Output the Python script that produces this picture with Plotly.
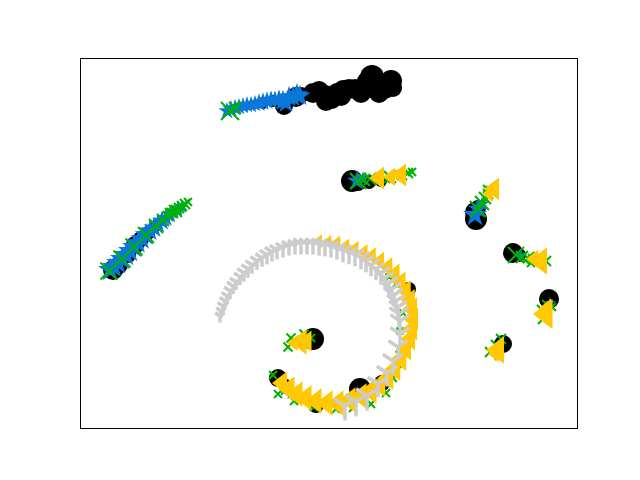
import plotly.graph_objects as go

# embedding scatter, axis frame only (no ticks)

black_x = [232, 238, 244, 250, 256, 262, 268, 274, 280, 286, 291, 292, 298, 304, 310, 312, 306,
           245, 260, 280, 298, 285, 303,
           203, 215, 220, 182, 192,
           32, 38, 47, 54, 60, 67, 75,
           271, 277, 288, 300, 395, 394, 397, 432, 438, 468, 422,
           232, 197, 235, 279, 301, 328, 205]
black_y = [335, 337, 333, 330, 335, 338, 339, 339, 339, 341, 351, 341, 337, 339, 347, 340, 345,
           327, 332, 335, 335, 347, 345,
           322, 331, 333, 325, 327,
           158, 163, 173, 183, 189, 195, 202,
           247, 245, 246, 247, 209, 216, 220, 175, 173, 129, 84,
           89, 50, 23, 39, 45, 139, 43]
black_s = [20, 20, 20, 22, 20, 20, 20, 20, 20, 20, 24, 22, 20, 20, 22, 18, 20,
           20, 20, 20, 20, 18, 18,
           18, 20, 16, 12, 12,
           20, 18, 16, 18, 16, 14, 12,
           22, 16, 14, 12, 22, 20, 16, 20, 14, 20, 18,
           22, 18, 16, 22, 16, 14, 12]

blue_x = [146, 150, 154, 158, 162, 166, 170, 174, 178, 182, 186, 190, 194, 198, 202, 205, 208, 212, 216, 219,
          29, 33, 37, 41, 45, 49, 53, 57, 61, 65, 69, 73, 77, 81, 85, 89, 93, 97, 101,
          276, 282, 394, 397, 401, 440, 469, 217, 203, 210]
blue_y = [317, 319, 320, 321, 322, 323, 323, 324, 325, 326, 327, 328, 328, 329, 327, 325, 331, 331, 333, 332,
          158, 161, 165, 169, 173, 177, 181, 185, 189, 193, 197, 200, 204, 207, 210, 213, 216, 219, 221,
          247, 249, 213, 219, 224, 172, 125, 87, 37, 34]
blue_s = [13, 13, 13, 13, 13, 13, 13, 13, 14, 14, 14, 14, 14, 14, 16, 16, 16, 16, 17, 16,
          18, 18, 18, 18, 18, 18, 18, 17, 17, 17, 16, 16, 15, 15, 14, 13, 12, 11, 10,
          15, 11, 18, 15, 11, 9, 9, 9, 9, 9]

green_x = [149, 154,
           28, 41, 53, 65, 75, 82, 87, 91, 95, 98, 101, 104, 107, 92, 97, 88,
           277, 283, 289, 304, 309, 315, 321, 327, 331,
           397, 401, 404, 407, 410, 406,
           435, 441, 447, 452, 457, 465, 450,
           466, 461, 462, 471,
           420, 415, 409, 418,
           210, 207, 223, 230,
           192, 197, 213, 233, 255, 272, 290, 305, 312, 316, 318, 319, 322, 315, 308]
green_y = [317, 320,
           157, 169, 181, 193, 202, 208, 212, 215, 218, 220, 222, 224, 226, 219, 215, 216,
           247, 248, 249, 250, 251, 252, 253, 255, 256,
           219, 225, 230, 234, 237, 239,
           173, 171, 170, 169, 171, 167, 165,
           123, 118, 109, 121,
           89, 83, 76, 72,
           90, 81, 94, 90,
           53, 34, 27, 21, 19, 20, 24, 35, 50, 64, 79, 97, 115, 144, 151]
green_s = [18, 12,
           17, 17, 17, 16, 14, 12, 10, 10, 10, 10, 10, 10, 8, 8, 8, 8,
           16, 12, 12, 10, 12, 10, 10, 10, 8,
           16, 14, 12, 10, 10, 8,
           16, 12, 10, 10, 10, 10, 8,
           10, 10, 10, 8,
           10, 10, 10, 8,
           9, 9, 9, 8,
           8, 8, 8, 8, 8, 8, 8, 8, 8, 8, 7, 7, 7, 7, 7]

yellow_x = [298, 320, 310, 413, 408, 460, 453, 465, 466, 417, 414, 220, 226, 213,
            238, 247, 256, 265, 274, 283, 291, 299, 307, 314, 320, 325, 329, 331, 332, 331,
            329, 325, 320, 314, 307, 299, 290, 280, 269, 257, 246, 235, 225, 216, 208, 201]
yellow_y = [250, 253, 251, 239, 234, 167, 169, 114, 120, 78, 74, 86, 87, 85,
            187, 186, 185, 182, 179, 176, 172, 167, 161, 154, 146, 137, 128, 119, 109, 99,
            89, 79, 69, 59, 50, 43, 37, 32, 28, 25, 25, 27, 30, 34, 39, 45]
yellow_s = [20, 20, 16, 20, 14, 24, 16, 26, 16, 24, 14, 22, 18, 14,
            12, 12, 13, 13, 14, 14, 15, 16, 17, 18, 18, 19, 19, 20, 20, 20,
            20, 20, 21, 21, 21, 21, 22, 22, 22, 22, 22, 22, 22, 22, 22, 20]

gray_x = [139, 140, 142, 144, 146, 149, 152, 155, 159, 163, 167, 171, 176, 181, 186, 191, 196, 202, 208,
          214, 220, 226, 232, 238, 244, 250, 256, 262, 268, 274, 280, 285, 290, 295, 300, 304, 308,
          311, 313, 315, 317, 318, 319, 319, 317, 312, 306, 297, 286, 275, 264]
gray_y = [112, 117, 122, 127, 132, 137, 142, 146, 151, 155, 159, 163, 167, 170, 173, 176, 178, 180, 182,
          183, 184, 184, 184, 183, 182, 181, 179, 177, 175, 173, 170, 167, 163, 159, 155, 150, 145,
          139, 133, 127, 121, 114, 107, 94, 81, 67, 55, 44, 32, 26, 22]
gray_s = [8, 8, 9, 9, 9, 10, 10, 10, 10, 11, 11, 11, 11, 11, 12, 12, 12, 12, 12,
          12, 13, 13, 13, 13, 13, 13, 13, 14, 14, 14, 14, 14, 14, 14, 15, 15, 15,
          15, 15, 15, 15, 16, 16, 16, 16, 17, 17, 17, 18, 18, 18]

fig = go.Figure()

fig.add_trace(go.Scatter(x=black_x, y=black_y, mode='markers',
                         marker=dict(symbol='circle', size=black_s, color='black', opacity=1,
                                     line=dict(width=0))))
fig.add_trace(go.Scatter(x=blue_x, y=blue_y, mode='markers',
                         marker=dict(symbol='star', size=blue_s, color='#0a78d8', opacity=1,
                                     line=dict(width=0))))
fig.add_trace(go.Scatter(x=green_x, y=green_y, mode='markers',
                         marker=dict(symbol='x-thin', size=green_s, color='#00b300', opacity=1,
                                     line=dict(width=2, color='#00b300'))))
fig.add_trace(go.Scatter(x=yellow_x, y=yellow_y, mode='markers',
                         marker=dict(symbol='triangle-left', size=yellow_s, color='#ffc800', opacity=1,
                                     line=dict(width=0))))
fig.add_trace(go.Scatter(x=gray_x, y=gray_y, mode='markers',
                         marker=dict(symbol='y-down', size=gray_s, color='#cccccc', opacity=1,
                                     line=dict(width=3.5, color='#cccccc'))))

axis = dict(showticklabels=False, ticks='', showgrid=False, zeroline=False,
            showline=True, linecolor='black', linewidth=1, mirror=True)

fig.update_layout(
    width=640, height=480,
    margin=dict(l=73, r=71, t=51, b=60),
    plot_bgcolor='white', paper_bgcolor='white',
    showlegend=False,
    xaxis=dict(axis, range=[0, 496]),
    yaxis=dict(axis, range=[0, 369]),
)

fig.write_html("out.html")
